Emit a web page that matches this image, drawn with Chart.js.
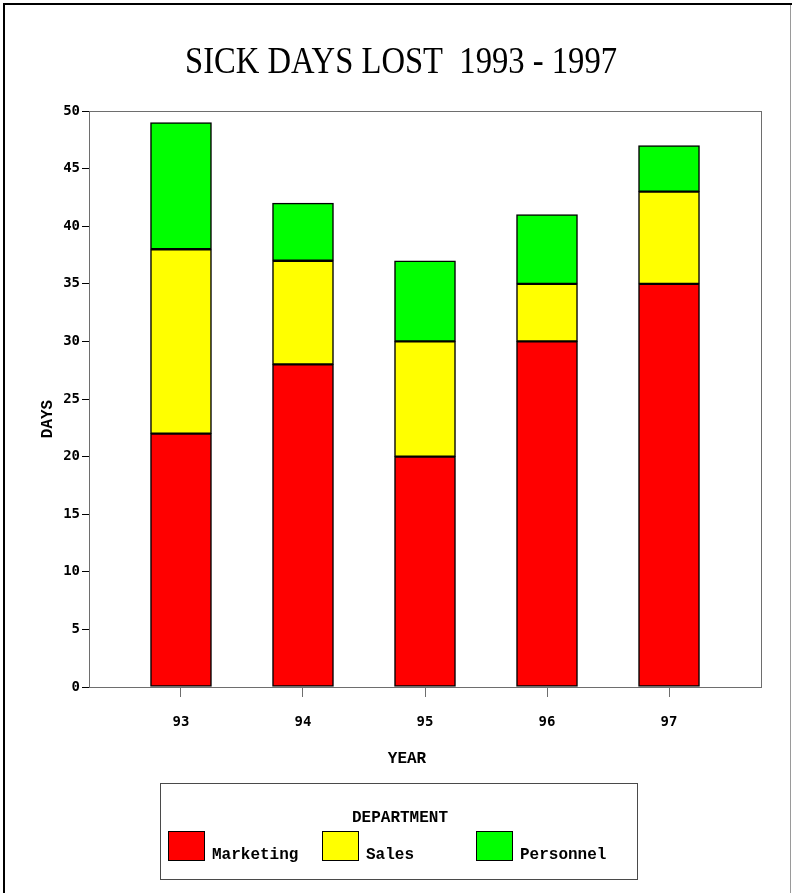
<!DOCTYPE html>
<html>
<head>
<meta charset="utf-8">
<title>Sick Days Lost 1993 - 1997</title>
<script src="https://cdn.jsdelivr.net/npm/chart.js@4.4.1/dist/chart.umd.min.js"></script>
<style>
    html, body { margin: 0; padding: 0; background: #ffffff; }
    canvas { display: block; }
</style>
</head>
<body>
<canvas id="sickChart" width="792" height="893"></canvas>
<script>
// Chart data
const years = [93, 94, 95, 96, 97];
const yearLabels = ['93', '94', '95', '96', '97'];
const marketing = [22, 28, 20, 30, 35];
const sales = [16, 9, 10, 5, 8];
const personnel = [11, 5, 7, 6, 4];
const departments = ['Marketing', 'Sales', 'Personnel'];
const deptColors = ['#ff0000', '#ffff00', '#00ff00'];

const monoFont = '"Liberation Mono", "Courier New", monospace';
const tickFont = '"DejaVu Sans Mono", monospace';

// Turn one series into {x, y} points on the numeric year axis
function toPoints(values) {
    return years.map((yr, i) => ({ x: yr, y: values[i] }));
}

// Draws the frame, title, axis titles and the legend box
const decorations = {
    id: 'decorations',
    beforeDatasetsDraw(chart) {
        const ctx = chart.ctx;
        const area = chart.chartArea;
        ctx.save();
        // plot box (top / right in grey)
        ctx.strokeStyle = '#6e6e6e';
        ctx.lineWidth = 1;
        ctx.strokeRect(Math.round(area.left) + 0.5, Math.round(area.top) + 0.5,
            Math.round(area.right - area.left), Math.round(area.bottom - area.top));
        ctx.restore();
    },
    afterDraw(chart) {
        const ctx = chart.ctx;
        ctx.save();

        // outer frame
        ctx.fillStyle = '#000000';
        ctx.fillRect(3, 3, 789, 2);
        ctx.fillRect(3, 3, 2, 890);
        ctx.fillStyle = '#9a9a9a';
        ctx.fillRect(790, 5, 1, 888);

        // title, squeezed to the width of the original lettering
        const title = 'SICK DAYS LOST  1993 - 1997';
        ctx.fillStyle = '#000000';
        ctx.font = '37px "Liberation Serif", "Times New Roman", serif';
        ctx.textAlign = 'left';
        ctx.textBaseline = 'alphabetic';
        const w = ctx.measureText(title).width;
        ctx.save();
        ctx.translate(185, 73);
        ctx.scale(432 / w, 1);
        ctx.fillText(title, 0, 0);
        ctx.restore();

        // axis titles
        ctx.textAlign = 'center';
        ctx.font = 'bold 16px ' + monoFont;
        ctx.fillText('YEAR', 407, 763);

        ctx.save();
        ctx.translate(52, 419);
        ctx.rotate(-Math.PI / 2);
        ctx.fillText('DAYS', 0, 0);
        ctx.restore();

        // legend box
        ctx.strokeStyle = '#4a4a4a';
        ctx.lineWidth = 1;
        ctx.strokeRect(160.5, 783.5, 477, 96);
        ctx.fillText('DEPARTMENT', 400, 822);

        ctx.textAlign = 'left';
        chart.data.datasets.forEach((ds, i) => {
            const x = 168 + i * 154;
            ctx.fillStyle = ds.backgroundColor;
            ctx.fillRect(x, 831, 36, 29);
            ctx.strokeStyle = '#000000';
            ctx.strokeRect(x + 0.5, 831.5, 36, 29);
            ctx.fillStyle = '#000000';
            ctx.fillText(ds.label, x + 44, 859);
        });

        ctx.restore();
    }
};

const datasets = [marketing, sales, personnel].map((values, i) => ({
    label: departments[i],
    data: toPoints(values),
    backgroundColor: deptColors[i],
    borderColor: '#000000',
    borderWidth: 1.5,
    borderSkipped: false,
    barThickness: 61
}));

new Chart(document.getElementById('sickChart'), {
    type: 'bar',
    data: { datasets: datasets },
    options: {
        responsive: false,
        animation: false,
        events: [],
        layout: {
            padding: { top: 111, right: 31, left: 0, bottom: 0 }
        },
        plugins: {
            legend: { display: false },
            title: { display: false },
            tooltip: { enabled: false }
        },
        scales: {
            x: {
                type: 'linear',
                stacked: true,
                offset: false,
                min: 92.246,
                max: 97.754,
                afterBuildTicks: (scale) => {
                    scale.ticks = years.map(v => ({ value: v }));
                },
                afterFit: (scale) => { scale.height = 206; },
                border: { display: true, color: '#6e6e6e', width: 1 },
                grid: {
                    offset: false,
                    drawOnChartArea: false,
                    drawTicks: true,
                    tickLength: 10,
                    color: '#6e6e6e'
                },
                ticks: {
                    padding: 17,
                    color: '#000000',
                    maxRotation: 0,
                    font: { family: tickFont, size: 14, weight: 'bold' },
                    callback: (value) => yearLabels[years.indexOf(value)]
                }
            },
            y: {
                stacked: true,
                min: 0,
                max: 50,
                afterFit: (scale) => { scale.width = 89; },
                border: { display: true, color: '#000000', width: 1 },
                grid: {
                    drawOnChartArea: false,
                    drawTicks: true,
                    tickLength: 7,
                    color: '#000000'
                },
                ticks: {
                    stepSize: 5,
                    padding: 2,
                    color: '#000000',
                    font: { family: tickFont, size: 14, weight: 'bold' }
                }
            }
        }
    },
    plugins: [decorations]
});
</script>
</body>
</html>
